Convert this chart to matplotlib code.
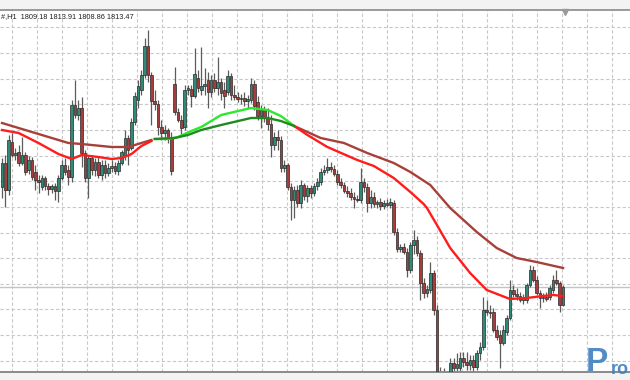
import matplotlib
matplotlib.use("Agg")
import matplotlib.pyplot as plt
import numpy as np

# H1 candles (price units)
opens = [1834.6, 1839.4, 1834.0, 1843.6, 1841.0, 1841.6, 1839.4, 1841.0, 1838.0, 1840.0,
         1837.6, 1836.0, 1834.6, 1836.4, 1834.8, 1834.2, 1834.8, 1833.8, 1836.4, 1839.0,
         1838.0, 1836.6, 1851.0, 1849.0, 1850.4, 1841.4, 1836.4, 1840.4, 1838.0, 1839.6,
         1837.0, 1839.0, 1837.4, 1838.4, 1838.8, 1837.8, 1839.4, 1841.0, 1844.4, 1842.4,
         1847.6, 1852.0, 1854.0, 1857.0, 1862.8, 1857.0, 1851.8, 1851.2, 1846.6, 1845.4,
         1846.0, 1844.6, 1855.2, 1849.6, 1848.0, 1846.6, 1854.0, 1854.2, 1852.8, 1856.4,
         1854.0, 1854.8, 1856.0, 1853.6, 1856.0, 1854.4, 1855.6, 1854.0, 1853.6, 1856.8,
         1853.0, 1852.6, 1852.2, 1852.4, 1851.8, 1852.0, 1855.2, 1851.6, 1848.8, 1850.0,
         1848.4, 1847.2, 1843.0, 1844.6, 1844.0, 1838.4, 1839.0, 1834.6, 1832.0, 1834.0,
         1831.4, 1835.0, 1832.8, 1834.4, 1833.4, 1834.8, 1835.6, 1837.6, 1838.0, 1838.6,
         1838.2, 1837.2, 1835.6, 1835.0, 1833.8, 1833.4, 1832.6, 1832.2, 1832.0, 1835.6,
         1834.6, 1831.4, 1832.6, 1831.2, 1831.6, 1830.8, 1831.4, 1831.0, 1831.4, 1825.6,
         1822.2, 1822.6, 1821.6, 1818.0, 1823.0, 1824.0, 1821.4, 1815.4, 1813.4, 1814.0,
         1817.4, 1810.0, 1795.0, 1793.6, 1794.4, 1797.0, 1799.4, 1798.4, 1798.4, 1800.4,
         1799.6, 1799.0, 1800.0, 1798.6, 1801.4, 1802.6, 1810.0, 1809.6, 1809.6, 1806.0,
         1805.0, 1803.4, 1805.6, 1808.4, 1814.0, 1813.2, 1812.8, 1812.0, 1812.0, 1815.0,
         1818.0, 1816.0, 1813.4, 1812.4, 1812.6, 1812.6, 1814.0, 1816.0, 1815.4, 1811.0]
highs = [1840.4, 1841.0, 1845.0, 1845.4, 1842.4, 1843.0, 1844.6, 1841.6, 1840.8, 1840.6,
         1839.0, 1837.0, 1837.0, 1836.8, 1835.4, 1835.2, 1835.4, 1837.0, 1840.0, 1840.4,
         1839.0, 1852.0, 1856.0, 1852.0, 1852.6, 1842.0, 1841.0, 1841.0, 1840.4, 1840.6,
         1840.0, 1840.0, 1839.4, 1840.0, 1839.6, 1840.0, 1842.0, 1846.0, 1845.0, 1848.4,
         1853.6, 1856.0, 1858.0, 1864.4, 1866.0, 1857.6, 1854.0, 1852.0, 1848.0, 1847.0,
         1846.4, 1845.6, 1858.6, 1850.4, 1849.0, 1855.0, 1855.0, 1855.0, 1862.4, 1858.0,
         1862.6, 1858.4, 1857.6, 1857.0, 1857.4, 1860.6, 1856.4, 1855.6, 1858.0, 1857.4,
         1855.0, 1853.6, 1853.2, 1853.6, 1853.0, 1856.4, 1856.0, 1852.8, 1851.0, 1850.8,
         1850.4, 1849.0, 1845.6, 1846.0, 1844.8, 1840.0, 1839.4, 1835.4, 1834.8, 1835.0,
         1836.0, 1835.4, 1835.0, 1835.0, 1835.4, 1836.4, 1838.4, 1839.0, 1840.4, 1839.6,
         1839.0, 1838.0, 1836.4, 1835.6, 1834.8, 1834.4, 1833.6, 1833.0, 1838.4, 1836.4,
         1835.4, 1834.0, 1833.6, 1832.0, 1832.4, 1832.0, 1832.2, 1832.4, 1832.0, 1826.4,
         1823.2, 1823.4, 1822.4, 1823.6, 1826.0, 1824.8, 1822.0, 1816.4, 1815.0, 1819.6,
         1818.0, 1811.0, 1798.6, 1798.4, 1797.6, 1800.4, 1800.4, 1801.4, 1801.6, 1801.6,
         1801.6, 1801.0, 1801.0, 1802.0, 1803.6, 1812.6, 1812.0, 1811.0, 1810.4, 1807.0,
         1806.0, 1807.0, 1809.0, 1816.0, 1815.0, 1814.4, 1813.6, 1813.2, 1815.4, 1819.0,
         1818.8, 1816.8, 1814.0, 1813.4, 1813.6, 1815.0, 1817.0, 1818.0, 1815.8, 1815.0]
lows = [1832.4, 1830.6, 1833.0, 1840.6, 1840.0, 1838.8, 1839.0, 1837.0, 1837.2, 1836.0,
        1834.0, 1833.4, 1834.0, 1834.0, 1833.0, 1833.4, 1832.0, 1831.6, 1836.0, 1837.0,
        1835.0, 1835.6, 1848.4, 1848.0, 1838.6, 1835.6, 1832.4, 1837.0, 1836.8, 1836.4,
        1836.0, 1836.4, 1836.8, 1837.6, 1837.2, 1837.0, 1839.0, 1840.0, 1839.0, 1842.0,
        1847.0, 1850.4, 1853.0, 1856.4, 1855.6, 1847.0, 1850.0, 1845.0, 1844.0, 1844.0,
        1843.4, 1837.0, 1849.0, 1847.6, 1845.0, 1846.0, 1853.0, 1850.6, 1852.4, 1853.6,
        1853.0, 1853.0, 1850.4, 1852.6, 1853.6, 1853.0, 1852.0, 1850.4, 1853.0, 1852.0,
        1852.0, 1851.6, 1851.2, 1850.8, 1850.4, 1851.4, 1850.0, 1848.0, 1846.4, 1847.6,
        1846.0, 1840.6, 1842.0, 1842.0, 1837.6, 1837.6, 1834.0, 1828.0, 1828.4, 1830.6,
        1830.4, 1832.0, 1831.6, 1832.4, 1832.8, 1834.0, 1835.0, 1837.0, 1837.4, 1837.6,
        1836.8, 1835.0, 1834.4, 1833.4, 1832.6, 1832.0, 1830.4, 1831.6, 1831.4, 1833.6,
        1829.6, 1830.4, 1830.6, 1830.4, 1830.0, 1830.2, 1830.6, 1830.4, 1825.0, 1821.6,
        1821.6, 1821.2, 1816.6, 1817.4, 1821.2, 1820.8, 1812.0, 1812.4, 1812.6, 1813.4,
        1809.0, 1792.0, 1792.0, 1792.4, 1792.8, 1796.0, 1797.6, 1797.6, 1797.6, 1798.6,
        1798.0, 1798.0, 1797.6, 1798.0, 1800.0, 1802.0, 1809.0, 1808.4, 1805.6, 1804.0,
        1798.4, 1803.0, 1805.0, 1808.0, 1812.6, 1812.0, 1811.6, 1811.2, 1811.4, 1814.6,
        1815.6, 1813.0, 1810.4, 1811.6, 1811.8, 1812.0, 1813.4, 1815.0, 1809.6, 1810.8]
closes = [1839.4, 1834.0, 1844.0, 1841.0, 1841.4, 1839.4, 1841.0, 1837.6, 1840.0, 1836.6,
          1836.0, 1835.6, 1836.4, 1834.8, 1834.2, 1834.8, 1833.8, 1836.4, 1839.0, 1837.6,
          1836.6, 1851.0, 1849.0, 1850.4, 1841.4, 1836.4, 1840.4, 1838.0, 1839.6, 1837.0,
          1839.0, 1837.4, 1838.4, 1838.8, 1837.8, 1839.4, 1841.6, 1844.4, 1842.0, 1847.6,
          1852.8, 1854.8, 1857.0, 1862.8, 1857.0, 1851.8, 1851.2, 1846.6, 1845.4, 1846.0,
          1844.6, 1837.8, 1849.6, 1848.0, 1846.4, 1854.0, 1854.4, 1852.8, 1857.2, 1854.4,
          1854.8, 1855.2, 1853.6, 1856.0, 1854.4, 1855.6, 1853.4, 1852.8, 1856.8, 1853.0,
          1852.6, 1852.2, 1852.4, 1851.8, 1852.2, 1855.2, 1850.8, 1848.8, 1850.0, 1848.4,
          1847.2, 1843.0, 1844.6, 1844.0, 1838.4, 1839.0, 1834.6, 1832.0, 1834.0, 1831.4,
          1835.0, 1832.8, 1834.4, 1833.4, 1834.8, 1835.6, 1837.6, 1838.0, 1838.6, 1838.2,
          1837.2, 1835.6, 1835.0, 1833.8, 1833.4, 1832.6, 1832.2, 1832.0, 1835.6, 1834.6,
          1831.4, 1832.6, 1831.2, 1831.6, 1830.8, 1831.4, 1831.0, 1831.6, 1825.6, 1822.2,
          1822.6, 1821.6, 1818.0, 1823.0, 1824.0, 1821.4, 1815.4, 1813.4, 1814.2, 1817.4,
          1810.0, 1795.0, 1793.6, 1794.4, 1796.0, 1799.4, 1798.4, 1799.2, 1800.4, 1799.6,
          1799.0, 1800.0, 1798.6, 1801.4, 1802.6, 1810.0, 1809.6, 1809.4, 1806.0, 1804.6,
          1803.4, 1806.0, 1808.4, 1814.0, 1813.2, 1812.8, 1812.0, 1812.4, 1815.0, 1818.0,
          1816.0, 1813.4, 1812.4, 1812.6, 1812.2, 1814.4, 1816.0, 1815.4, 1811.0, 1814.6]

# moving averages (bar index, value), read at points along each line
fast_idx = [0, 5, 11, 17, 21, 24, 29, 33, 36, 39, 42, 45, 46, 50, 53, 57, 60, 66, 75, 80,
            84, 88, 92, 98, 107, 112, 118, 123, 127, 128, 131, 135, 141, 146, 153, 158, 163, 166, 169]
fast_val = [1846.0, 1845.4, 1843.4, 1841.2, 1840.2, 1841.0, 1840.6, 1840.2, 1840.4, 1841.2,
            1842.8, 1843.8, 1844.2, 1844.2, 1844.6, 1845.8, 1846.6, 1849.0, 1850.4, 1850.0,
            1848.8, 1846.8, 1845.0, 1842.6, 1840.0, 1838.8, 1836.4, 1833.6, 1831.2, 1830.4,
            1827.0, 1822.4, 1817.4, 1814.0, 1812.2, 1812.4, 1812.8, 1813.0, 1812.8]
slow_idx = [0, 9, 20, 24, 33, 38, 42, 45, 46, 52, 56, 60, 66, 75, 80, 84, 88, 96, 103, 110,
            118, 123, 129, 135, 143, 149, 155, 161, 169]
slow_val = [1847.4, 1845.6, 1843.4, 1843.2, 1842.6, 1842.6, 1843.4, 1844.0, 1844.2, 1844.4,
            1845.0, 1846.0, 1847.0, 1848.4, 1848.4, 1847.8, 1846.8, 1844.4, 1843.4, 1841.4,
            1839.4, 1837.6, 1835.0, 1830.4, 1825.6, 1822.4, 1820.4, 1819.6, 1818.4]
bull_start, bull_end = 45, 88   # bars where fast MA is above slow MA

header = "#,H1  1809.18 1813.91 1808.86 1813.47"

plt.rcParams['font.family'] = ['Liberation Sans', 'DejaVu Sans']

fig = plt.figure(figsize=(6.3, 3.8), dpi=100, facecolor='#f3f3f3')
ax = fig.add_axes([0, 8 / 380, 1, 362 / 380])
ax.set_facecolor('white')

n = len(closes)
x = np.arange(n)
o = np.array(opens)
c = np.array(closes)
up = c >= o

# grid
step = 3.32  # pixels per bar
ax.set_xlim(-2 / step, 628 / step)
ax.set_ylim(1872 - 372 / 5, 1872 - 10 / 5)
for k in range(26):
    ax.axvline((9.7 + 25 * k) / step, color='#c8c8c8', lw=0.8, ls=(0, (3, 2)), zorder=0)
for j in range(14):
    ax.axhline(1866.54 - 5.13 * j, color='#c8c8c8', lw=0.8, ls=(0, (3, 2)), zorder=0)

# bid line
ax.axhline(closes[-1], color='#c4c4c4', lw=1.0, zorder=1)

# candles
ax.vlines(x, lows, highs, color='#5c5c5c', lw=0.9, zorder=2)
body_h = np.maximum(np.abs(c - o), 0.25)
body_b = np.minimum(o, c)
ax.bar(x[up], body_h[up], bottom=body_b[up], width=0.8, color='#2f8a78',
       edgecolor='#2a2a2a', linewidth=0.5, zorder=3)
ax.bar(x[~up], body_h[~up], bottom=body_b[~up], width=0.8, color='#a63c3c',
       edgecolor='#2a2a2a', linewidth=0.5, zorder=3)

# moving averages, coloured by trend
fi = np.array(fast_idx); fv = np.array(fast_val)
si = np.array(slow_idx); sv = np.array(slow_val)

def seg(idx, val, lo, hi):
    m = (idx >= lo) & (idx <= hi)
    return idx[m], val[m]

xs, ys = seg(si, sv, 0, bull_start)
ax.plot(xs, ys, color='#a8403a', lw=1.7, zorder=4)
xs, ys = seg(si, sv, bull_end, n)
ax.plot(xs, ys, color='#a8403a', lw=1.7, zorder=4)
xs, ys = seg(fi, fv, 0, bull_start)
ax.plot(xs, ys, color='#ff1c1c', lw=1.7, zorder=5)
xs, ys = seg(fi, fv, bull_end, n)
ax.plot(xs, ys, color='#ff1c1c', lw=1.7, zorder=5)
xs, ys = seg(fi, fv, bull_start + 1, bull_end)
ax.plot(xs, ys, color='#2ee82e', lw=1.7, zorder=5)
xs, ys = seg(si, sv, bull_start + 1, bull_end)
ax.plot(xs, ys, color='#1f8a1f', lw=1.7, zorder=6)

# chart shift marker
ax.plot([n - 0.3], [0.995], marker='v', ms=4, color='#9a9a9a',
        transform=ax.get_xaxis_transform(), clip_on=False, zorder=7)

ax.set_xticks([])
ax.set_yticks([])
for s in ['left', 'right']:
    ax.spines[s].set_visible(False)
ax.spines['top'].set_color('#8a8a8a')
ax.spines['bottom'].set_color('#8a8a8a')
ax.spines['top'].set_linewidth(1.2)
ax.spines['bottom'].set_linewidth(1.4)

fig.text(1 / 630, 1 - 16.5 / 380, header, fontsize=5.3, color='#202020',
         va='center', ha='left')

# watermark logo in the corner
fig.text(586 / 630, 9 / 380, "P", fontsize=24, fontweight='bold',
         color='#3f7fc0', va='baseline', ha='left', alpha=0.9)
fig.text(611 / 630, 6 / 380, "ro", fontsize=13, fontweight='bold',
         color='#3f7fc0', va='baseline', ha='left', alpha=0.9)

fig.savefig("out.png", dpi=100, facecolor=fig.get_facecolor())
